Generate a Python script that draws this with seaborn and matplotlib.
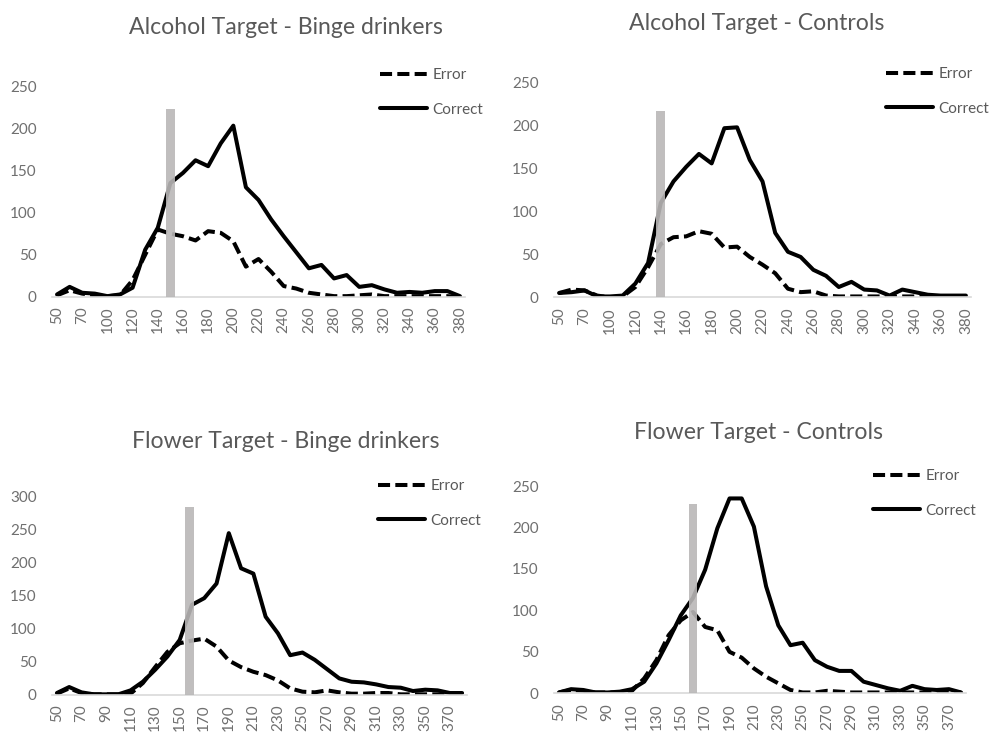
import numpy as np
import pandas as pd
import matplotlib
matplotlib.use("Agg")
import matplotlib.pyplot as plt
import seaborn as sns

# Categories (ms bins)
alcohol_bins = [50, 60, 70, 80] + list(range(100, 390, 10))
flower_bins = list(range(50, 390, 10))

# Alcohol target - binge drinkers
alc_binge_correct = [3, 12, 5, 4, 1, 3, 11, 56, 82, 135, 147, 162, 155, 182, 203, 130, 115,
                     92, 72, 53, 34, 38, 22, 26, 12, 14, 9, 5, 6, 5, 7, 7, 1]
alc_binge_error = [2, 8, 4, 2, 1, 2, 20, 50, 80, 75, 72, 67, 78, 76, 66, 36, 45,
                   30, 13, 10, 5, 3, 1, 1, 2, 3, 1, 1, 1, 1, 1, 1, 0]

# Alcohol target - controls
alc_ctrl_correct = [5, 6, 8, 1, 1, 2, 16, 40, 110, 135, 152, 167, 156, 197, 198, 160, 135,
                    75, 53, 47, 32, 25, 12, 18, 9, 8, 2, 9, 6, 3, 2, 2, 2]
alc_ctrl_error = [5, 9, 8, 2, 0, 1, 12, 35, 62, 70, 71, 77, 74, 58, 59, 47, 38,
                  28, 10, 6, 7, 2, 1, 1, 1, 1, 1, 1, 1, 1, 1, 1, 1]

# Flower target - binge drinkers
flw_binge_correct = [3, 12, 4, 1, 1, 1, 7, 20, 38, 58, 83, 136, 146, 168, 244, 191, 183,
                     118, 93, 60, 64, 53, 39, 25, 20, 19, 16, 12, 11, 6, 8, 7, 3, 3]
flw_binge_error = [2, 10, 3, 1, 1, 1, 2, 18, 42, 65, 78, 82, 85, 73, 52, 42, 35,
                   30, 22, 10, 5, 4, 7, 4, 2, 2, 3, 3, 1, 1, 1, 1, 1, 1]

# Flower target - controls
flw_ctrl_correct = [1, 5, 4, 1, 1, 2, 5, 14, 36, 64, 94, 115, 149, 199, 235, 235, 201,
                    129, 82, 58, 61, 40, 32, 27, 27, 14, 10, 6, 3, 9, 5, 4, 5, 1]
flw_ctrl_error = [1, 4, 3, 1, 1, 1, 3, 18, 40, 70, 88, 98, 80, 76, 50, 43, 30,
                  20, 12, 4, 1, 1, 3, 2, 1, 1, 1, 1, 1, 1, 1, 1, 1, 1]

titles = ["Alcohol Target - Binge drinkers", "Alcohol Target - Controls",
          "Flower Target - Binge drinkers", "Flower Target - Controls"]
marker_ms = [150, 140, 158, 160]       # gray marker position (ms)
marker_top = [223, 217, 283, 228]      # gray marker height
y_max = [250, 250, 300, 250]

sns.set_theme(style="white")
plt.rcParams['font.family'] = ['Lato', 'DejaVu Sans']

GRAY_TXT = "#595959"
TICK_TXT = "#6f6f6f"

fig = plt.figure(figsize=(9.92, 7.35), dpi=100)

W, H = 992, 735
# panel pixel geometry: left, right, y of zero, y of ymax
geom = [(52, 465, 297, 86), (554, 971, 297.3, 82.7),
        (52, 467, 695, 496), (554, 966, 693.3, 486)]
title_pos = [(286, 28), (757, 24), (286, 441), (759, 432)]
legend_pos = [(380, 68), (886, 67), (378, 479), (873, 469)]

panels = [
    (alcohol_bins, alc_binge_correct, alc_binge_error),
    (alcohol_bins, alc_ctrl_correct, alc_ctrl_error),
    (flower_bins, flw_binge_correct, flw_binge_error),
    (flower_bins, flw_ctrl_correct, flw_ctrl_error),
]

for k, (bins, correct, error) in enumerate(panels):
    l, r, y0, y1 = geom[k]
    ax = fig.add_axes([l / W, 1 - y0 / H, (r - l) / W, (y0 - y1) / H])
    n = len(bins)
    df = pd.DataFrame({"pos": np.arange(n), "Correct": correct, "Error": error})

    sns.lineplot(data=df, x="pos", y="Error", ax=ax, color="black", lw=2.9,
                 linestyle=(0, (3, 1.3)), label="Error")
    sns.lineplot(data=df, x="pos", y="Correct", ax=ax, color="black", lw=2.9,
                 label="Correct")

    # gray marker bar, drawn over the lines
    xpos = np.interp(marker_ms[k], bins, np.arange(n))
    ax.bar([xpos], [marker_top[k]], width=0.7, color="#b9b7b7", alpha=0.9,
           zorder=5, linewidth=0)

    ax.set_xlim(-0.4, n - 1 + 0.4)
    ax.set_ylim(0, y_max[k])
    ax.set_yticks(np.arange(0, y_max[k] + 1, 50))
    ax.set_xticks(np.arange(0, n, 2))
    ax.set_xticklabels([str(b) for b in bins[::2]], rotation=90)
    ax.tick_params(axis="both", length=0, labelsize=11, colors=TICK_TXT)
    ax.tick_params(axis="y", pad=11)
    ax.tick_params(axis="x", pad=7)
    ax.set_xlabel("")
    ax.set_ylabel("")
    for s in ["top", "right", "left"]:
        ax.spines[s].set_visible(False)
    ax.spines["bottom"].set_color("#d9d9d9")
    ax.spines["bottom"].set_linewidth(1.2)
    ax.set_facecolor("none")

    handles, labels = ax.get_legend_handles_labels()
    lx, ly = legend_pos[k]
    leg = ax.legend(handles, labels, loc="upper left",
                    bbox_to_anchor=(lx / W, 1 - ly / H), bbox_transform=fig.transFigure,
                    frameon=False, fontsize=11, handlelength=3.1, handletextpad=0.35,
                    borderpad=0, borderaxespad=0, labelspacing=1.35)
    for t in leg.get_texts():
        t.set_color(GRAY_TXT)

    tx, ty = title_pos[k]
    fig.text(tx / W, 1 - ty / H, titles[k], ha="center", va="center",
             fontsize=16.6, color=GRAY_TXT)

fig.savefig("out.png", dpi=100, facecolor="white")
